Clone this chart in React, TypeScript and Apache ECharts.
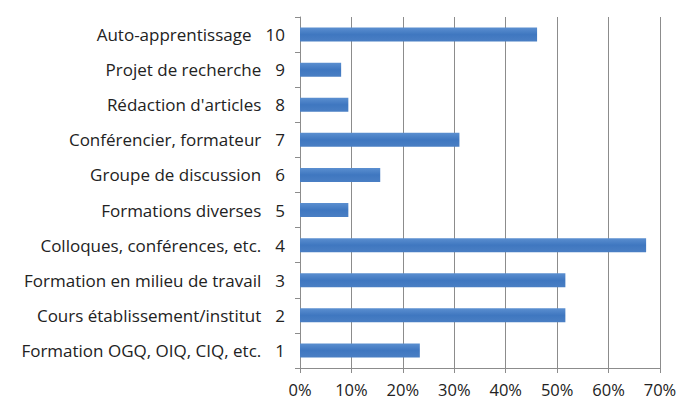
import React, { useEffect, useRef } from "react";
import * as echarts from "echarts";

const categories = [
  "Formation OGQ, OIQ, CIQ, etc.",
  "Cours établissement/institut",
  "Formation en milieu de travail",
  "Colloques, conférences, etc.",
  "Formations diverses",
  "Groupe de discussion",
  "Conférencier, formateur",
  "Rédaction d'articles",
  "Projet de recherche",
  "Auto-apprentissage",
];
const numbers = ["1", "2", "3", "4", "5", "6", "7", "8", "9", "10"];
const values = [23.3, 51.6, 51.6, 67.3, 9.4, 15.6, 31.0, 9.4, 8.0, 46.1];
const xTicks = [0, 10, 20, 30, 40, 50, 60, 70];

export default function App() {
  const ref = useRef<HTMLDivElement>(null);
  useEffect(() => {
    document.body.style.margin = "0";
    const chart = echarts.init(ref.current!, null, { renderer: "svg" });
    const font = "Open Sans";
    const fs = 16.5;
    const fsy = 17;
    chart.setOption({
      animation: false,
      backgroundColor: "#ffffff",
      grid: { left: 300, right: 30, top: 17, bottom: 34, containLabel: false },
      xAxis: {
        type: "value",
        min: 0,
        max: xTicks[xTicks.length - 1],
        interval: 10,
        axisLine: { show: true, lineStyle: { color: "#8c8c8c", width: 1 } },
        axisTick: { show: true, length: 5, lineStyle: { color: "#8c8c8c" } },
        splitLine: { show: true, lineStyle: { color: "#8c8c8c", width: 1 } },
        axisLabel: {
          formatter: (v: number) => `${v}%`,
          color: "#222222",
          fontFamily: font,
          fontSize: fs,
          margin: 13,
        },
      },
      yAxis: {
        type: "category",
        data: categories.map((c, i) => `${c}|${numbers[i]}`),
        axisLine: { show: true, lineStyle: { color: "#8c8c8c", width: 1 } },
        axisTick: { show: true, length: 5, lineStyle: { color: "#8c8c8c" } },
        splitLine: { show: false },
        axisLabel: {
          margin: 15,
          formatter: (v: string) => {
            const [n, k] = v.split("|");
            return `{a|${n}}{b|${k}}`;
          },
          rich: {
            a: { color: "#222222", fontFamily: font, fontSize: fsy },
            b: { color: "#222222", fontFamily: font, fontSize: fsy, padding: [0, 0, 0, 14] },
          },
        },
      },
      series: [
        {
          type: "bar",
          data: values,
          barWidth: "40%",
          itemStyle: {
            color: new echarts.graphic.LinearGradient(0, 0, 0, 1, [
              { offset: 0, color: "#5b8fd0" },
              { offset: 0.5, color: "#3f77c0" },
              { offset: 1, color: "#4a7fc4" },
            ]),
          },
        },
      ],
    });
    return () => chart.dispose();
  }, []);
  return <div ref={ref} style={{ width: 690, height: 402 }} />;
}
